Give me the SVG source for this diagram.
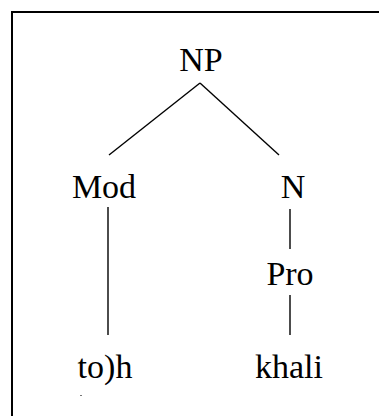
<svg xmlns="http://www.w3.org/2000/svg" width="379" height="416" viewBox="0 0 379 416">
  <style>
    .lbl { font-family: "Liberation Serif", "Times New Roman", serif; font-size: 34px; fill: #000; text-anchor: middle; }
    .edge { stroke: #000; stroke-width: 1.4; fill: none; }
    .frame { stroke: #000; stroke-width: 2; fill: none; }
  </style>
  <rect width="379" height="416" fill="#fff"/>
  <path class="frame" d="M12,416 V12 H379"/>
  <g id="connectors">
    <line class="edge" x1="200" y1="83" x2="109" y2="155"/>
    <line class="edge" x1="200" y1="83" x2="279" y2="155"/>
    <line class="edge" x1="108" y1="207" x2="108" y2="335"/>
    <line class="edge" x1="290" y1="209" x2="290" y2="249"/>
    <line class="edge" x1="290" y1="295" x2="290" y2="335"/>
  </g>
  <g id="np"><text class="lbl" x="201" y="71">NP</text></g>
  <g id="mod"><text class="lbl" x="104" y="198">Mod</text></g>
  <g id="n"><text class="lbl" x="293" y="198">N</text></g>
  <g id="pro"><text class="lbl" x="290" y="285">Pro</text></g>
  <g id="toh">
    <text class="lbl" x="105" y="378">to)h</text>
    <rect x="80" y="395" width="2" height="1" fill="#777"/>
  </g>
  <g id="khali"><text class="lbl" x="289" y="378">khali</text></g>
</svg>
